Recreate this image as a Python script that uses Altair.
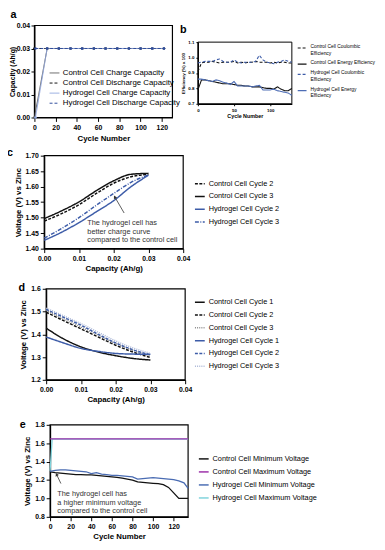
import altair as alt
import pandas as pd

FONT = "Liberation Sans"
W, H = 372, 537
BLUE = "#3d5ca8"

# ---------------- panel a data ----------------
a_names = ["Control Cell Charge Capacity", "Control Cell Discharge Capacity",
           "Hydrogel Cell Charge Capacity", "Hydrogel Cell Discharge Capacity"]
a_colors = ["#5a5a5a", "#111111", "#8ea5dd", "#2e4c9c"]
a_dashes = [[1, 0], [3, 2], [1, 0], [3, 2]]
a_cycles_control = [0, 12, 23, 34, 45, 56, 67, 78, 89, 100, 111, 122]
a_cycles_hydrogel = [1, 12, 23, 34, 45, 56, 67, 78, 89, 100, 111, 122]
a_control_charge = [0.000, 0.030, 0.030, 0.030, 0.030, 0.030, 0.030, 0.030, 0.030, 0.030, 0.030, 0.030]
a_control_discharge = [0.030, 0.030, 0.030, 0.030, 0.030, 0.030, 0.030, 0.030, 0.030, 0.030, 0.030, 0.030]
a_hydrogel_charge = [0.000, 0.030, 0.030, 0.030, 0.030, 0.030, 0.030, 0.030, 0.030, 0.030, 0.030, 0.030]
a_hydrogel_discharge = [0.030, 0.030, 0.030, 0.030, 0.030, 0.030, 0.030, 0.030, 0.030, 0.030, 0.030, 0.030]
a_xdomain = [0, 130]
a_ydomain = [0.0, 0.04]
a_xticks = [0, 20, 40, 60, 80, 100, 120]
a_yticks = [0.00, 0.01, 0.02, 0.03, 0.04]

# ---------------- panel b data ----------------
b_names = ["Control Cell Coulombic Efficiency", "Control Cell Energy Efficiency",
           "Hydrogel Cell Coulombic Efficiency", "Hydrogel Cell Energy Efficiency"]
b_colors = ["#111111", "#111111", BLUE, "#4d6db5"]
b_dashes = [[3, 2], [1, 0], [3, 2], [1, 0]]
b_cycles = [0, 5, 10, 15, 20, 25, 30, 35, 40, 45, 50, 55, 60, 65, 70, 75, 80, 85, 90, 95,
            100, 105, 110, 115, 120, 125, 130]
b_control_ce = [0.91, 0.965, 0.97, 0.97, 0.975, 0.97, 0.965, 0.97, 0.97, 0.97, 0.975, 0.965, 0.97,
                0.965, 0.97, 0.97, 0.975, 0.97, 0.97, 0.97, 0.965, 0.97, 0.965, 0.97, 0.97, 0.965, 0.965]
b_control_ee = [0.79, 0.855, 0.855, 0.85, 0.845, 0.84, 0.835, 0.83, 0.83, 0.83, 0.825, 0.82, 0.82,
                0.815, 0.815, 0.81, 0.81, 0.81, 0.805, 0.80, 0.80, 0.795, 0.81, 0.795, 0.785, 0.785, 0.80]
b_hydrogel_ce = [0.965, 0.97, 0.975, 0.975, 0.975, 0.985, 0.99, 0.975, 0.97, 0.97, 0.985, 0.97, 0.965,
                 0.97, 0.97, 0.97, 0.975, 1.015, 0.985, 0.97, 0.965, 0.96, 0.97, 0.975, 0.985, 0.975, 0.97]
b_hydrogel_ee = [0.86, 0.86, 0.855, 0.85, 0.845, 0.855, 0.85, 0.84, 0.835, 0.825, 0.845, 0.815, 0.815,
                 0.815, 0.815, 0.81, 0.815, 0.82, 0.79, 0.79, 0.79, 0.795, 0.785, 0.78, 0.775, 0.77, 0.755]
b_xdomain = [0, 130]
b_ydomain = [0.7, 1.1]
b_xticks = [0, 50, 100]
b_yticks = [0.7, 0.8, 0.9, 1.0, 1.1]

# ---------------- panel c data ----------------
c_names = ["Control Cell Cycle 2", "Control Cell Cycle 3", "Hydrogel Cell Cycle 2", "Hydrogel Cell Cycle 3"]
c_colors = ["#111111", "#111111", BLUE, BLUE]
c_dashes = [[3, 1.5], [1, 0], [1, 0], [4, 1.5, 1, 1.5]]
c_capacity = [0.000, 0.005, 0.010, 0.015, 0.020, 0.025, 0.030]
c_control_2 = [1.489, 1.513, 1.542, 1.578, 1.611, 1.632, 1.640]
c_control_3 = [1.497, 1.522, 1.551, 1.587, 1.619, 1.640, 1.643]
c_hydrogel_2 = [1.427, 1.453, 1.484, 1.519, 1.555, 1.600, 1.637]
c_hydrogel_3 = [1.434, 1.465, 1.500, 1.540, 1.578, 1.614, 1.638]
c_xdomain = [0.0, 0.04]
c_ydomain = [1.40, 1.70]
c_xticks = [0.00, 0.01, 0.02, 0.03, 0.04]
c_yticks = [1.40, 1.45, 1.50, 1.55, 1.60, 1.65, 1.70]
c_note_lines = ["The hydrogel cell has", "better charge curve", "compared to the control cell"]
c_note_at = [0.0124, 1.495]
c_arrow = [0.0230, 1.515, 0.0203, 1.567]

# ---------------- panel d data ----------------
d_names = ["Control Cell Cycle 1", "Control Cell Cycle 2", "Control Cell Cycle 3",
           "Hydrogel Cell Cycle 1", "Hydrogel Cell Cycle 2", "Hydrogel Cell Cycle 3"]
d_colors = ["#111111", "#111111", "#8a8a8a", BLUE, BLUE, "#a9b6d6"]
d_dashes = [[1, 0], [3, 1.5], [1, 1.2], [1, 0], [3, 1.5], [1, 1.2]]
d_capacity = [0.000, 0.005, 0.010, 0.015, 0.020, 0.025, 0.030]
d_control_1 = [1.427, 1.380, 1.345, 1.322, 1.306, 1.294, 1.287]
d_control_2 = [1.497, 1.460, 1.424, 1.388, 1.352, 1.322, 1.298]
d_control_3 = [1.505, 1.468, 1.432, 1.396, 1.360, 1.330, 1.305]
d_hydrogel_1 = [1.388, 1.362, 1.338, 1.325, 1.316, 1.313, 1.312]
d_hydrogel_2 = [1.510, 1.475, 1.440, 1.400, 1.362, 1.332, 1.310]
d_hydrogel_3 = [1.515, 1.481, 1.447, 1.409, 1.371, 1.340, 1.316]
d_xdomain = [0.0, 0.04]
d_ydomain = [1.2, 1.6]
d_xticks = [0.00, 0.01, 0.02, 0.03, 0.04]
d_yticks = [1.2, 1.3, 1.4, 1.5, 1.6]

# ---------------- panel e data ----------------
e_names = ["Control Cell Minimum Voltage", "Control Cell Maximum Voltage",
           "Hydrogel Cell Minimum Voltage", "Hydrogel Cell Maximum Voltage"]
e_colors = ["#111111", "#9c2fa8", "#4a6cb3", "#7fd3dc"]
e_cycles = [0, 5, 10, 15, 20, 25, 30, 35, 40, 45, 50, 55, 60, 65, 70, 75, 80, 85, 90, 95,
            100, 105, 110, 115, 120, 125, 130, 134]
e_control_min = [1.29, 1.28, 1.275, 1.27, 1.265, 1.26, 1.26, 1.255, 1.255, 1.25, 1.245, 1.24, 1.235,
                 1.23, 1.22, 1.21, 1.20, 1.18, 1.175, 1.17, 1.165, 1.16, 1.15, 1.12, 1.06, 1.00, 1.00, 1.00]
e_control_max = [1.648, 1.648, 1.648, 1.648, 1.648, 1.648, 1.648, 1.648, 1.648, 1.648, 1.648, 1.648, 1.648,
                 1.648, 1.648, 1.648, 1.648, 1.648, 1.648, 1.648, 1.648, 1.648, 1.648, 1.648, 1.648, 1.648,
                 1.648, 1.648]
e_hydrogel_min = [1.295, 1.305, 1.31, 1.31, 1.305, 1.30, 1.295, 1.29, 1.27, 1.28, 1.265, 1.26, 1.25,
                  1.25, 1.245, 1.24, 1.235, 1.21, 1.215, 1.22, 1.225, 1.22, 1.215, 1.21, 1.205, 1.19, 1.17, 1.11]
e_hmax_cycles = [0, 1, 2, 134]
e_hydrogel_max = [1.30, 1.47, 1.645, 1.645]
e_xdomain = [0, 134]
e_ydomain = [0.8, 1.8]
e_xticks = [0, 20, 40, 60, 80, 100, 120]
e_yticks = [0.8, 1.0, 1.2, 1.4, 1.6, 1.8]
e_note_lines = ["The hydrogel cell has", "a higher minimum voltage", "compared to the control cell"]
e_note_at = [7, 1.087]
e_arrow = [10.5, 1.162, 6.3, 1.261]


def long_df(xs_list, ys_list, names, xname, yname):
    rows = []
    for xs, ys, n in zip(xs_list, ys_list, names):
        for x, y in zip(xs, ys):
            rows.append({xname: x, yname: y, "series": n})
    return pd.DataFrame(rows)


def axis(orient, offset, values, title, fmt, lsize=7, tsize=8, tpad=3, **kw):
    return alt.Axis(orient=orient, offset=offset, values=values, title=title, format=fmt,
                    labelFontSize=lsize, titleFontSize=tsize, titlePadding=tpad,
                    labelFlush=False, labelOverlap=False, **kw)


def legend(x, y, sym, fsize, rowpad, loff=3, sw=1.5, **kw):
    return alt.Legend(orient="none", legendX=x, legendY=y, title=None, symbolType="stroke",
                      symbolSize=sym, labelFontSize=fsize, rowPadding=rowpad, labelOffset=loff,
                      symbolStrokeWidth=sw, padding=0, labelFont=FONT, labelColor="black", **kw)


def frame(xs, ys, xdom, ydom, sw=1.2):
    df = pd.DataFrame({"fx0": [xdom[0]], "fx1": [xdom[1]], "fy0": [ydom[0]], "fy1": [ydom[1]]})
    return alt.Chart(df).mark_rect(fillOpacity=0, stroke="black", strokeWidth=sw).encode(
        x=alt.X("fx0:Q", scale=xs, axis=None), x2="fx1",
        y=alt.Y("fy0:Q", scale=ys, axis=None), y2="fy1")


def letter(txt, x, y):
    return alt.Chart(alt.Data(values=[{}])).mark_text(
        text=txt, font=FONT, fontSize=11, fontWeight="bold", align="center", baseline="middle",
        color="black").encode(x=alt.value(x), y=alt.value(y))


def note_layers(xs, ys, at, lines, arrow, angle):
    tdf = pd.DataFrame({"nx": [at[0]], "ny": [at[1]]})
    t = alt.Chart(tdf).mark_text(
        text=lines, align="left", baseline="top", font=FONT, fontSize=7.5, lineHeight=8.7,
        color="#333333").encode(x=alt.X("nx:Q", scale=xs, axis=None),
                                y=alt.Y("ny:Q", scale=ys, axis=None))
    adf = pd.DataFrame({"ax0": [arrow[0]], "ay0": [arrow[1]], "ax1": [arrow[2]], "ay1": [arrow[3]]})
    r = alt.Chart(adf).mark_rule(color="#333333", strokeWidth=0.8).encode(
        x=alt.X("ax0:Q", scale=xs, axis=None), y=alt.Y("ay0:Q", scale=ys, axis=None),
        x2="ax1", y2="ay1")
    h = alt.Chart(adf).mark_point(shape="triangle-up", filled=True, size=14, angle=angle,
                                  color="#333333", opacity=1).encode(
        x=alt.X("ax1:Q", scale=xs, axis=None), y=alt.Y("ay1:Q", scale=ys, axis=None))
    return [r, h, t]


def scale(dom, rng):
    return alt.Scale(domain=dom, range=rng, nice=False, zero=False)


layers = []

# ---------------- panel a ----------------
xs_a = scale(a_xdomain, [22, 163])
ys_a = scale(a_ydomain, [101, 7])
df_a = long_df([a_cycles_control, a_cycles_control, a_cycles_hydrogel, a_cycles_hydrogel],
               [a_control_charge, a_control_discharge, a_hydrogel_charge, a_hydrogel_discharge],
               a_names, "cycle", "cap")
leg_a = legend(37, 50, 100, 8, 0.3, loff=3, sw=1)
lines_a = alt.Chart(df_a).mark_line(strokeWidth=1, point=alt.OverlayMarkDef(filled=True, size=7)).encode(
    x=alt.X("cycle:Q", scale=xs_a, axis=axis("bottom", 101 - H, a_xticks, "Cycle Number", "d", tpad=4)),
    y=alt.Y("cap:Q", scale=ys_a, axis=axis("left", -22, a_yticks, "Capacity (Ah/g)", ".2f",
                                          tsize=7, tpad=1, tickSize=3.5, labelPadding=1.5)),
    color=alt.Color("series:N", scale=alt.Scale(domain=a_names, range=a_colors), legend=leg_a),
    strokeDash=alt.StrokeDash("series:N", scale=alt.Scale(domain=a_names, range=a_dashes), legend=leg_a),
)
layers += [frame(xs_a, ys_a, a_xdomain, a_ydomain), lines_a, letter("a", 0.5, -4)]

# ---------------- panel b ----------------
xs_b = scale(b_xdomain, [189, 285])
ys_b = scale(b_ydomain, [87, 24])
df_b = long_df([b_cycles, b_cycles, b_cycles, b_cycles],
               [b_control_ce, b_control_ee, b_hydrogel_ce, b_hydrogel_ee],
               b_names, "cycle", "eff")
leg_b = legend(290, 24.5, 81, 5, 2.5, loff=3, sw=1.2, labelBaseline="alphabetic",
               labelExpr="datum.label == 'Control Cell Energy Efficiency' ? datum.label : "
                         "[substring(datum.label, 0, length(datum.label) - 11), 'Efficiency']")
lines_b = alt.Chart(df_b).mark_line(strokeWidth=1.1).encode(
    x=alt.X("cycle:Q", scale=xs_b, axis=axis("bottom", 87 - H, b_xticks, "Cycle Number", "d",
                                             lsize=4.5, tsize=5.5, tpad=2, tickSize=2)),
    y=alt.Y("eff:Q", scale=ys_b, axis=axis("left", -189, b_yticks, "Efficiency (%) x 100", ".1f",
                                           lsize=4.5, tsize=4.5, tpad=2, tickSize=2)),
    color=alt.Color("series:N", scale=alt.Scale(domain=b_names, range=b_colors), legend=leg_b),
    strokeDash=alt.StrokeDash("series:N", scale=alt.Scale(domain=b_names, range=b_dashes), legend=leg_b),
)
layers += [frame(xs_b, ys_b, b_xdomain, b_ydomain, 1), lines_b, letter("b", 174, 12)]

# ---------------- panel c ----------------
xs_c = scale(c_xdomain, [32, 174])
ys_c = scale(c_ydomain, [235, 140])
df_c = long_df([c_capacity, c_capacity, c_capacity, c_capacity],
               [c_control_2, c_control_3, c_hydrogel_2, c_hydrogel_3],
               c_names, "cap", "volt")
leg_c = legend(185, 162.7, 100, 7.5, 3)
lines_c = alt.Chart(df_c).mark_line(strokeWidth=1.5, interpolate="monotone").encode(
    x=alt.X("cap:Q", scale=xs_c, axis=axis("bottom", 235 - H, c_xticks, "Capacity (Ah/g)", ".2f")),
    y=alt.Y("volt:Q", scale=ys_c, axis=axis("left", -32, c_yticks, "Voltage (V) vs Zinc", ".2f")),
    color=alt.Color("series:N", scale=alt.Scale(domain=c_names, range=c_colors), legend=leg_c),
    strokeDash=alt.StrokeDash("series:N", scale=alt.Scale(domain=c_names, range=c_dashes), legend=leg_c),
)
layers += [frame(xs_c, ys_c, c_xdomain, c_ydomain), lines_c]
layers += note_layers(xs_c, ys_c, c_note_at, c_note_lines, c_arrow, 331)
layers += [letter("c", -3, 137)]

# ---------------- panel d ----------------
xs_d = scale(d_xdomain, [34, 176])
ys_d = scale(d_ydomain, [369, 276])
df_d = long_df([d_capacity, d_capacity, d_capacity, d_capacity, d_capacity, d_capacity],
               [d_control_1, d_control_2, d_control_3, d_hydrogel_1, d_hydrogel_2, d_hydrogel_3],
               d_names, "cap", "volt")
leg_d = legend(185, 283.7, 100, 7.5, 3.1)
lines_d = alt.Chart(df_d).mark_line(strokeWidth=1.5, interpolate="monotone").encode(
    x=alt.X("cap:Q", scale=xs_d, axis=axis("bottom", 369 - H, d_xticks, "Capacity (Ah/g)", ".2f")),
    y=alt.Y("volt:Q", scale=ys_d, axis=axis("left", -34, d_yticks, "Voltage (V) vs Zinc", ".1f")),
    color=alt.Color("series:N", scale=alt.Scale(domain=d_names, range=d_colors), legend=leg_d),
    strokeDash=alt.StrokeDash("series:N", scale=alt.Scale(domain=d_names, range=d_dashes), legend=leg_d),
)
layers += [frame(xs_d, ys_d, d_xdomain, d_ydomain), lines_d, letter("d", 9, 275)]

# ---------------- panel e ----------------
xs_e = scale(e_xdomain, [38, 179])
ys_e = scale(e_ydomain, [509, 415])
df_e = long_df([e_hmax_cycles, e_cycles, e_cycles, e_cycles],
               [e_hydrogel_max, e_control_max, e_control_min, e_hydrogel_min],
               [e_names[3], e_names[1], e_names[0], e_names[2]], "cycle", "volt")
leg_e = legend(189, 443.8, 100, 7.5, 3.3)
lines_e = alt.Chart(df_e).mark_line(strokeWidth=1.3).encode(
    x=alt.X("cycle:Q", scale=xs_e, axis=axis("bottom", 509 - H, e_xticks, "Cycle Number", "d")),
    y=alt.Y("volt:Q", scale=ys_e, axis=axis("left", -38, e_yticks, "Voltage (V) vs Zinc", ".1f")),
    color=alt.Color("series:N", scale=alt.Scale(domain=e_names, range=e_colors), legend=leg_e),
)
layers += [frame(xs_e, ys_e, e_xdomain, e_ydomain), lines_e]
layers += note_layers(xs_e, ys_e, e_note_at, e_note_lines, e_arrow, 335)
layers += [letter("e", 10, 415)]

chart = alt.layer(*layers).resolve_scale(
    x="independent", y="independent", color="independent", strokeDash="independent"
).properties(
    width=W, height=H, autosize=alt.AutoSizeParams(type="none"),
    padding={"left": 5, "top": 5, "right": 0, "bottom": 0},
).configure_view(stroke=None).configure_axis(
    labelFont=FONT, titleFont=FONT, labelFontWeight="bold", titleFontWeight="bold",
    labelColor="black", titleColor="black", domainColor="black", domainWidth=1.2,
    tickColor="black", tickWidth=1, tickSize=4, labelPadding=2, grid=False,
)

chart.save("out.html", embed_options={"renderer": "svg", "actions": False})
